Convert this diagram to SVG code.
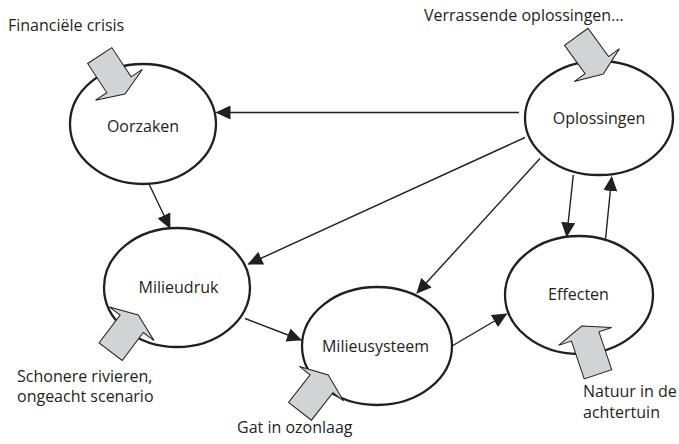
<svg xmlns="http://www.w3.org/2000/svg" width="679" height="444" viewBox="0 0 679 444">
<defs>
<style>
.node{fill:#fff;stroke:#231f20;stroke-width:2.3}
.lbl{font-family:"Open Sans","Liberation Sans",sans-serif;font-size:16px;fill:#231f20}
.mid{text-anchor:middle}
.conn{stroke:#231f20;stroke-width:1.4;fill:none;marker-end:url(#ah)}
.blk{fill:#d1d3d4;stroke:#231f20;stroke-width:1;stroke-linejoin:miter}
</style>
<marker id="ah" markerUnits="userSpaceOnUse" viewBox="0 0 15 14" refX="14" refY="7" markerWidth="15" markerHeight="14" orient="auto">
<path d="M0,0 L15,7 L0,14 z" fill="#231f20"/>
</marker>
<polygon id="blockArrow" points="0,0 -11,28 -11,14.5 -46,14.5 -46,-14.5 -11,-14.5 -11,-28"/>
</defs>
<rect width="679" height="444" fill="#fff"/>

<g id="connectors">
<line class="conn" x1="519" y1="112.5" x2="216.5" y2="112.5"/>
<line class="conn" x1="149" y1="184" x2="170" y2="228"/>
<line class="conn" x1="525" y1="137.5" x2="248.5" y2="264"/>
<line class="conn" x1="540" y1="158.5" x2="417" y2="293"/>
<line class="conn" x1="245" y1="318.5" x2="301" y2="340"/>
<line class="conn" x1="452" y1="346" x2="506.5" y2="314"/>
<line class="conn" x1="573.3" y1="175" x2="566.7" y2="236.5"/>
<line class="conn" x1="605.5" y1="239.5" x2="611.7" y2="177"/>
</g>

<g id="node-oorzaken">
<ellipse class="node" cx="143" cy="124" rx="73" ry="60"/>
<text class="lbl mid" x="143" y="132">Oorzaken</text>
</g>
<g id="node-oplossingen">
<ellipse class="node" cx="599" cy="118" rx="74" ry="57"/>
<text class="lbl mid" x="599" y="124">Oplossingen</text>
</g>
<g id="node-milieudruk">
<ellipse class="node" cx="177" cy="287.5" rx="73" ry="59.5"/>
<text class="lbl mid" x="178.5" y="293">Milieudruk</text>
</g>
<g id="node-milieusysteem">
<ellipse class="node" cx="377" cy="346" rx="75" ry="59"/>
<text class="lbl mid" x="375.5" y="352">Milieusysteem</text>
</g>
<g id="node-effecten">
<ellipse class="node" cx="579" cy="295" rx="74" ry="59"/>
<text class="lbl mid" x="578.5" y="300">Effecten</text>
</g>

<g id="input-financiele-crisis">
<use href="#blockArrow" class="blk" transform="translate(125,94) rotate(56.7)"/>
<text class="lbl" x="8" y="31">Financiële crisis</text>
</g>
<g id="input-verrassende-oplossingen">
<use href="#blockArrow" class="blk" transform="translate(603.3,74) rotate(54)"/>
<text class="lbl" x="424" y="21">Verrassende oplossingen...</text>
</g>
<g id="input-schonere-rivieren">
<use href="#blockArrow" class="blk" transform="translate(138.3,315) rotate(-53)"/>
<text class="lbl" x="17" y="382">Schonere rivieren,</text>
<text class="lbl" x="17" y="402">ongeacht scenario</text>
</g>
<g id="input-gat-in-ozonlaag">
<use href="#blockArrow" class="blk" transform="translate(328.3,375) rotate(-52)"/>
<text class="lbl" x="237" y="433">Gat in ozonlaag</text>
</g>
<g id="input-natuur">
<polygon class="blk" points="0,0 -11,28 -11,14.5 -51,14.5 -51,-14.5 -11,-14.5 -11,-28" transform="translate(581.7,326) rotate(-108.6)"/>
<text class="lbl" x="583" y="397">Natuur in de</text>
<text class="lbl" x="583" y="418">achtertuin</text>
</g>
</svg>
